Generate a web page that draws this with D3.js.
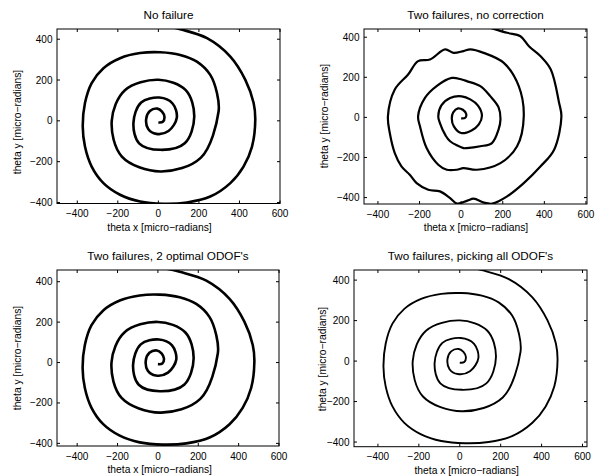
<!DOCTYPE html>
<html>
<head>
<meta charset="utf-8">
<script src="https://cdn.jsdelivr.net/npm/d3@7"></script>
<style>
  body { margin: 0; background: #fff; }
  text { font-family: "Liberation Sans", Arial, Helvetica, sans-serif; fill: #000; }
</style>
</head>
<body>
<script>
var w = 600;
var h = 476;

// panel titles
const titles = ["No failure", "Two failures, no correction",
                "Two failures, 2 optimal ODOF's", "Two failures, picking all ODOF's"];
const xTicks = [-400, -200, 0, 200, 400, 600];
const yTicks = [-400, -200, 0, 200, 400];
const xLabel = "theta x [micro\u2212radians]";
const yLabel = "theta y [micro\u2212radians]";

// spiral of the corrected panels, centre outwards (micro-radians)
const smoothX = [0, 22, 30, 18, -5, -42, -60, -50, -10, 50, 91, 70, 5, -85, -123, -95, 10, 130, 177, 135,
                 0, -165, -230, -180, 10, 210, 297, 289, 256, 190, 108, 9, -90, -189, -271, -329, -362, -373,
                 -362, -329, -271, -189, -90, 25, 141, 256, 355, 420, 462, 478, 470, 429, 355, 240, 108, -30];
const smoothY = [-8, -5, 20, 45, 60, 48, 10, -40, -64, -50, 15, 85, 114, 90, -10, -110, -142, -110, 20, 150,
                 201, 150, 0, -175, -248, -180, 46, 136, 225, 290, 323, 336, 332, 307, 258, 185, 87, -28,
                 -126, -224, -305, -362, -395, -406, -400, -371, -305, -224, -126, 5, 87, 201, 315, 405, 449, 480];

// spiral with two failures and no correction (wavy), centre outwards
const wobblyX = [0, 20, 24, 8, -15, -38, -45, -35, 0, 50, 85, 100, 80, 44, 3, -53, -95, -110, -102, -75, -53, 11,
                 27, 92, 148, 180, 189, 180, 140, 92, 27, 3, -45, -118, -174, -207, -198, -166, -110, -69, -21, 11,
                 76, 189, 269, 301, 277, 205, 108, 44, 11, -37, -77, -150, -207, -255, -319, -352, -343, -319, -287,
                 -247, -214, -158, -102, -53, -20, 30, 60, 110, 150, 221, 301, 382, 447, 482, 471, 431, 382, 326,
                 285, 221, 140, 60];
const wobblyY = [-5, -2, 18, 38, 45, 25, -5, -45, -78, -65, -35, 10, 60, 90, 105, 97, 60, 5, -28, -90, -119, -153,
                 -153, -144, -128, -60, -11, 50, 106, 156, 181, 189, 197, 156, 97, 5, -44, -153, -236, -261, -261, -253,
                 -261, -228, -144, 5, 156, 272, 322, 339, 331, 322, 339, 289, 281, 214, 139, 5, -78, -178, -244,
                 -286, -328, -361, -369, -403, -430, -415, -405, -425, -430, -394, -328, -244, -161, 5, 72, 239, 305, 355,
                 405, 422, 447, 470];

window.onload = function() {

  var svg = d3.select("body")
              .append("svg")
              .attr("width", w)
              .attr("height", h);

  var smooth = smoothX.map(function(x, i) { return [x, smoothY[i]]; });
  var wobbly = wobblyX.map(function(x, i) { return [x, wobblyY[i]]; });

  // plot boxes (axis equal makes them differ a little)
  var panels = [
    {box: [57, 29, 280, 203.5], xd: [-500, 600], yd: [-405, 450], pts: smooth, sw: 2.6, lx: 159.5, yl: [21, 122]},
    {box: [364, 29, 587, 204], xd: [-467, 605], yd: [-432, 441], pts: wobbly, sw: 2.2, lx: 476, yl: [327.5, 116]},
    {box: [57, 270, 279, 446], xd: [-500, 600], yd: [-413, 458], pts: smooth, sw: 2.6, lx: 159.7, yl: [21, 358]},
    {box: [354, 270, 587, 446.7], xd: [-517, 622], yd: [-423, 450], pts: smooth, sw: 1.9, lx: 466.7, yl: [326, 359]}
  ];

  panels.forEach(function(p, k) {
    var x0 = p.box[0], y0 = p.box[1], x1 = p.box[2], y1 = p.box[3];
    var x = d3.scaleLinear().domain(p.xd).range([x0, x1]);
    var y = d3.scaleLinear().domain(p.yd).range([y1, y0]);
    var g = svg.append("g");

    g.append("clipPath").attr("id", "clip" + k)
      .append("rect").attr("x", x0).attr("y", y0).attr("width", x1 - x0).attr("height", y1 - y0);

    var line = d3.line()
                 .x(function(d) { return x(d[0]); })
                 .y(function(d) { return y(d[1]); })
                 .curve(d3.curveCatmullRom.alpha(0.5));

    g.append("path")
      .attr("d", line(p.pts))
      .attr("clip-path", "url(#clip" + k + ")")
      .attr("fill", "none")
      .attr("stroke", "#000")
      .attr("stroke-width", p.sw)
      .attr("stroke-linejoin", "round");

    // box
    g.append("rect")
      .attr("x", x0).attr("y", y0)
      .attr("width", x1 - x0).attr("height", y1 - y0)
      .attr("fill", "none").attr("stroke", "#000").attr("stroke-width", 1);

    // inward ticks on all four sides
    xTicks.forEach(function(t) {
      var px = x(t);
      g.append("line").attr("x1", px).attr("x2", px).attr("y1", y1).attr("y2", y1 - 3)
        .attr("stroke", "#000");
      g.append("line").attr("x1", px).attr("x2", px).attr("y1", y0).attr("y2", y0 + 3)
        .attr("stroke", "#000");
      g.append("text").attr("x", px).attr("y", y1 + 13.5)
        .attr("text-anchor", "middle").attr("font-size", "10px")
        .text(String(t).replace("-", "\u2212"));
    });
    yTicks.forEach(function(t) {
      var py = y(t);
      g.append("line").attr("x1", x0).attr("x2", x0 + 3).attr("y1", py).attr("y2", py)
        .attr("stroke", "#000");
      g.append("line").attr("x1", x1).attr("x2", x1 - 3).attr("y1", py).attr("y2", py)
        .attr("stroke", "#000");
      g.append("text").attr("x", x0 - 4.5).attr("y", py).attr("dy", "0.35em")
        .attr("text-anchor", "end").attr("font-size", "10px")
        .text(String(t).replace("-", "\u2212"));
    });

    g.append("text")
      .attr("x", (x0 + x1) / 2).attr("y", y0 - 10)
      .attr("text-anchor", "middle").attr("font-size", "11.7px")
      .text(titles[k]);

    g.append("text")
      .attr("x", p.lx).attr("y", y1 + 27)
      .attr("text-anchor", "middle").attr("font-size", "10.3px")
      .text(xLabel);

    g.append("text")
      .attr("transform", "translate(" + p.yl[0] + "," + p.yl[1] + ") rotate(-90)")
      .attr("text-anchor", "middle").attr("font-size", "10.3px")
      .text(yLabel);
  });
};
</script>
</body>
</html>
